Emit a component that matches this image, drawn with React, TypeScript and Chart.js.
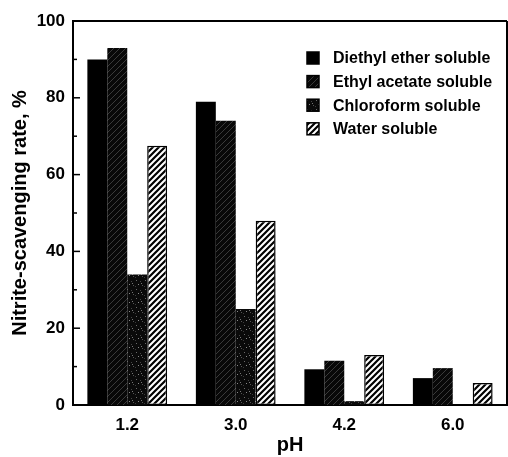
import React, { useEffect, useRef } from "react";
import { Chart, registerables } from "chart.js";

Chart.register(...registerables);

const categories = ["1.2", "3.0", "4.2", "6.0"];
const seriesNames = [
  "Diethyl ether soluble",
  "Ethyl acetate soluble",
  "Chloroform soluble",
  "Water soluble",
];
const diethylEther = [90, 79, 9.3, 7];
const ethylAcetate = [93, 74, 11.5, 9.6];
const chloroform = [34, 25, 1, 0];
const water = [67.5, 48, 13, 5.7];
const yMin = 0;
const yMax = 100;
const yStep = 20;

const FONT = "'Liberation Sans', Arial, Helvetica, sans-serif";

function makeTile(size: number, draw: (c: CanvasRenderingContext2D, s: number) => void) {
  const cv = document.createElement("canvas");
  cv.width = size;
  cv.height = size;
  const c = cv.getContext("2d")!;
  draw(c, size);
  const ctx2 = document.createElement("canvas").getContext("2d")!;
  return ctx2.createPattern(cv, "repeat")!;
}

function diag(c: CanvasRenderingContext2D, s: number, color: string, w: number) {
  c.strokeStyle = color;
  c.lineWidth = w;
  c.beginPath();
  c.moveTo(0, s);
  c.lineTo(s, 0);
  c.moveTo(-2, 2);
  c.lineTo(2, -2);
  c.moveTo(s - 2, s + 2);
  c.lineTo(s + 2, s - 2);
  c.stroke();
}

function buildPatterns() {
  const solid = "#000000";
  const ethyl = makeTile(6, (c, s) => {
    c.fillStyle = "#080808";
    c.fillRect(0, 0, s, s);
    diag(c, s, "#3a3a3a", 1);
  });
  const chloro = makeTile(9, (c, s) => {
    c.fillStyle = "#0a0a0a";
    c.fillRect(0, 0, s, s);
    const pts = [
      [1, 1, "#6a6a6a"],
      [5, 2, "#444"],
      [3, 5, "#888"],
      [7, 6, "#555"],
      [0, 7, "#3a3a3a"],
      [6, 4, "#777"],
    ];
    pts.forEach(([x, y, col]) => {
      c.fillStyle = col as string;
      c.fillRect(x as number, y as number, 1, 1);
    });
  });
  const wat = makeTile(6, (c, s) => {
    c.fillStyle = "#ffffff";
    c.fillRect(0, 0, s, s);
    diag(c, s, "#000000", 2.2);
  });
  return [solid, ethyl, chloro, wat];
}

const frameTicksPlugin = {
  id: "frameTicks",
  afterDatasetsDraw(chart: any) {
    const { ctx, chartArea } = chart;
    const ys = chart.scales.y;
    ctx.save();
    ctx.strokeStyle = "#000";
    ctx.lineWidth = 2;
    ctx.beginPath();
    ctx.moveTo(chartArea.left, chartArea.top);
    ctx.lineTo(chartArea.right, chartArea.top);
    ctx.moveTo(chartArea.right, chartArea.top);
    ctx.lineTo(chartArea.right, chartArea.bottom);
    ctx.stroke();
    ctx.lineWidth = 1.5;
    for (let v = yMin; v <= yMax; v += yStep / 2) {
      const y = ys.getPixelForValue(v);
      const len = v % yStep === 0 ? 7 : 4;
      ctx.beginPath();
      ctx.moveTo(chartArea.left, y);
      ctx.lineTo(chartArea.left + len, y);
      ctx.stroke();
    }
    ctx.restore();
  },
};

const innerLegendPlugin = {
  id: "innerLegend",
  afterDraw(chart: any) {
    const { ctx } = chart;
    const o = chart.options.plugins.innerLegend;
    ctx.save();
    ctx.font = `bold ${o.fontSize}px ${FONT}`;
    ctx.textBaseline = "middle";
    ctx.textAlign = "left";
    chart.data.datasets.forEach((ds: any, i: number) => {
      const cy = o.y + i * o.rowGap;
      ctx.fillStyle = ds.backgroundColor;
      ctx.fillRect(o.x, cy - o.box / 2, o.box, o.box);
      ctx.strokeStyle = "#000";
      ctx.lineWidth = 1.5;
      ctx.strokeRect(o.x, cy - o.box / 2, o.box, o.box);
      ctx.fillStyle = "#000";
      ctx.fillText(ds.label, o.x + o.box + o.textGap, cy + 1);
    });
    ctx.restore();
  },
};

export default function App() {
  const ref = useRef<HTMLCanvasElement | null>(null);

  useEffect(() => {
    if (!ref.current) return;
    const pats = buildPatterns();
    const values = [diethylEther, ethylAcetate, chloroform, water];
    const chart = new Chart(ref.current, {
      type: "bar",
      data: {
        labels: categories,
        datasets: values.map((vals, i) => ({
          label: seriesNames[i],
          data: vals,
          backgroundColor: pats[i] as any,
          borderColor: "#000",
          borderWidth: i === 3 ? 1.5 : 0,
          borderSkipped: false,
          categoryPercentage: 0.735,
          barPercentage: 1.0,
        })),
      },
      options: {
        responsive: false,
        animation: false,
        layout: { padding: { top: 21, right: 1, left: 0, bottom: 0 } },
        plugins: {
          legend: { display: false },
          tooltip: { enabled: false },
          innerLegend: { x: 307, y: 58, rowGap: 23.6, box: 12, textGap: 14, fontSize: 16 },
        } as any,
        scales: {
          x: {
            grid: { display: false, drawTicks: false },
            border: { display: true, color: "#000", width: 2 },
            ticks: {
              color: "#000",
              padding: 10,
              font: { family: FONT, size: 17, weight: "bold" },
            },
            title: {
              display: true,
              text: "pH",
              color: "#000",
              padding: { top: 0, bottom: 0 },
              font: { family: FONT, size: 20, weight: "bold" },
            },
            afterFit(scale: any) {
              scale.height = 52;
            },
          },
          y: {
            min: yMin,
            max: yMax,
            grid: { display: false, drawTicks: false },
            border: { display: true, color: "#000", width: 2 },
            ticks: {
              stepSize: yStep,
              color: "#000",
              padding: 8,
              font: { family: FONT, size: 17, weight: "bold" },
            },
            title: {
              display: true,
              text: "Nitrite-scavenging rate, %",
              color: "#000",
              padding: { top: 8, bottom: 0 },
              font: { family: FONT, size: 20, weight: "bold" },
            },
            afterFit(scale: any) {
              scale.width = 73;
            },
          },
        },
      },
      plugins: [frameTicksPlugin, innerLegendPlugin],
    });
    return () => chart.destroy();
  }, []);

  return (
    <div
      style={{
        position: "absolute",
        left: 0,
        top: 0,
        width: 508,
        height: 457,
        overflow: "hidden",
        background: "#fff",
      }}
    >
      <canvas ref={ref} width={508} height={457} />
    </div>
  );
}
